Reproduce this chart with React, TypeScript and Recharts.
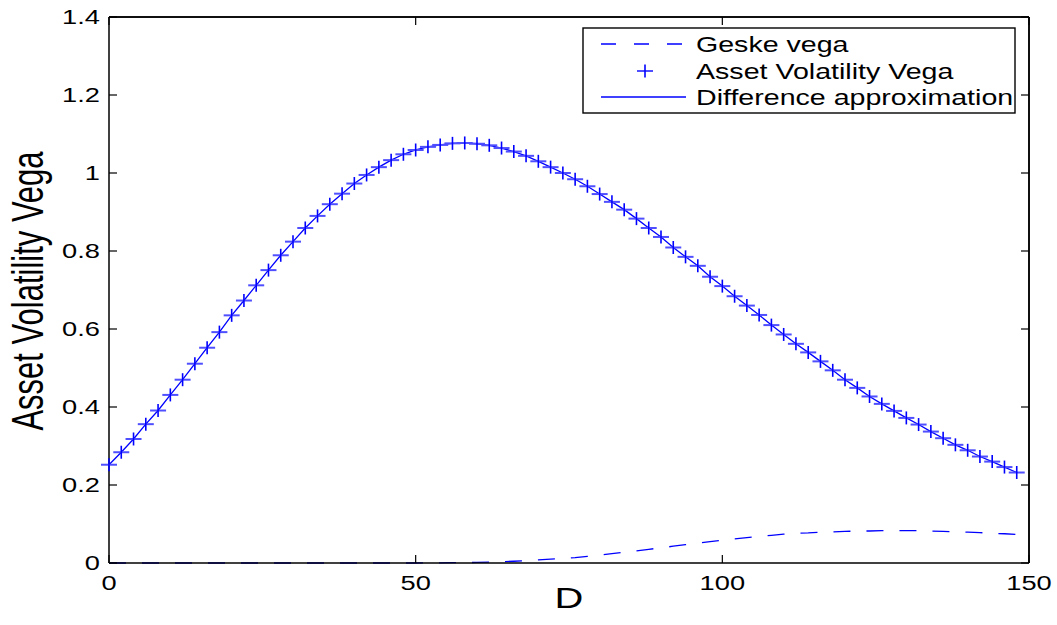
import { LineChart, Line, XAxis, YAxis, ReferenceLine } from "recharts";

// D grid (step 2) and the three curves.
const dValues = [
  0, 2, 4, 6, 8, 10, 12, 14, 16, 18,
  20, 22, 24, 26, 28, 30, 32, 34, 36, 38,
  40, 42, 44, 46, 48, 50, 52, 54, 56, 58,
  60, 62, 64, 66, 68, 70, 72, 74, 76, 78,
  80, 82, 84, 86, 88, 90, 92, 94, 96, 98,
  100, 102, 104, 106, 108, 110, 112, 114, 116, 118,
  120, 122, 124, 126, 128, 130, 132, 134, 136, 138,
  140, 142, 144, 146, 148,
];
const geskeVega = [
  0, 0, 0, 0, 0, 0, 0, 0, 0, 0,
  0, 0, 0, 0, 0, 0, 0, 0, 0, 0,
  0, 0, 0, 0, 0, 0, 0.0003, 0.0005, 0.0008, 0.001,
  0.0015, 0.002, 0.003, 0.0045, 0.006, 0.008, 0.01, 0.012, 0.014, 0.017,
  0.02, 0.024, 0.028, 0.031, 0.035, 0.039, 0.043, 0.047, 0.051, 0.055,
  0.058, 0.062, 0.065, 0.068, 0.071, 0.074, 0.076, 0.077, 0.079, 0.08,
  0.081, 0.082, 0.082, 0.083, 0.083, 0.083, 0.083, 0.082, 0.081, 0.08,
  0.079, 0.078, 0.076, 0.075, 0.073,
];
const assetVega = [
  0.252, 0.284, 0.318, 0.356, 0.391, 0.431, 0.47, 0.511, 0.552, 0.592,
  0.635, 0.673, 0.712, 0.751, 0.789, 0.824, 0.859, 0.89, 0.92, 0.947,
  0.973, 0.995, 1.015, 1.033, 1.048, 1.059, 1.067, 1.072, 1.076, 1.077,
  1.075, 1.071, 1.064, 1.055, 1.044, 1.03, 1.015, 1.0, 0.984, 0.966,
  0.946, 0.926, 0.906, 0.883, 0.859, 0.836, 0.809, 0.785, 0.762, 0.734,
  0.71, 0.684, 0.66, 0.636, 0.61, 0.586, 0.562, 0.54, 0.517, 0.494,
  0.47, 0.449, 0.427, 0.408, 0.39, 0.372, 0.355, 0.337, 0.32, 0.303,
  0.289, 0.273, 0.26, 0.246, 0.232,
];
const diffApprox = [
  0.252, 0.284, 0.318, 0.356, 0.391, 0.431, 0.47, 0.511, 0.552, 0.592,
  0.635, 0.673, 0.712, 0.751, 0.789, 0.824, 0.859, 0.89, 0.92, 0.947,
  0.973, 0.995, 1.015, 1.033, 1.048, 1.059, 1.067, 1.072, 1.076, 1.077,
  1.075, 1.071, 1.064, 1.055, 1.044, 1.03, 1.015, 1.0, 0.984, 0.966,
  0.946, 0.926, 0.906, 0.883, 0.859, 0.836, 0.809, 0.785, 0.762, 0.734,
  0.71, 0.684, 0.66, 0.636, 0.61, 0.586, 0.562, 0.54, 0.517, 0.494,
  0.47, 0.449, 0.427, 0.408, 0.39, 0.372, 0.355, 0.337, 0.32, 0.303,
  0.289, 0.273, 0.26, 0.246, 0.232,
];
const xTicks = [0, 50, 100, 150];
const yTicks = [0, 0.2, 0.4, 0.6, 0.8, 1, 1.2, 1.4];

const rows = dValues.map((d, i) => ({ D: d, geske: geskeVega[i], asset: assetVega[i], diff: diffApprox[i] }));

const FONT = "'Liberation Sans', Arial, Helvetica, sans-serif";
const SX = 1.33; // the figure is stretched horizontally
const BLUE = "#0000ff";
const TICK = 8;

const LeftTick = ({ x, y, payload }: any) => (
  <g>
    <line x1={x} x2={x + TICK} y1={y} y2={y} stroke="#000" strokeWidth={1.2} />
    <text transform={`translate(${x - 9},${y}) scale(${SX},1)`} textAnchor="end" dominantBaseline="central"
      fontFamily={FONT} fontSize={20.5} fill="#000">{payload.value}</text>
  </g>
);
const RightTick = ({ x, y }: any) => (
  <line x1={x} x2={x - TICK} y1={y} y2={y} stroke="#000" strokeWidth={1.2} />
);
const BottomTick = ({ x, y, payload }: any) => (
  <g>
    <line x1={x} x2={x} y1={y} y2={y - TICK} stroke="#000" strokeWidth={1.2} />
    <text transform={`translate(${x},${y + 20}) scale(${SX},1)`} textAnchor="middle" dominantBaseline="central"
      fontFamily={FONT} fontSize={20.5} fill="#000">{payload.value}</text>
  </g>
);
const TopTick = ({ x, y }: any) => (
  <line x1={x} x2={x} y1={y} y2={y + TICK} stroke="#000" strokeWidth={1.2} />
);

const Plus = ({ cx, cy, index }: any) => {
  if (cx == null || cy == null) return <g key={index} />;
  return (
    <g key={index}>
      <line x1={cx - 8} x2={cx + 8} y1={cy} y2={cy} stroke="#4f4fff" strokeWidth={2} />
      <line x1={cx} x2={cx} y1={cy - 6.5} y2={cy + 6.5} stroke={BLUE} strokeWidth={1.6} />
    </g>
  );
};

function LegendBox() {
  const rowsY = [17, 44, 70];
  const labels = ["Geske vega", "Asset Volatility Vega", "Difference approximation"];
  return (
    <svg width={434} height={87} style={{ position: "absolute", left: 582, top: 27 }}>
      <rect x={1} y={1} width={432} height={85} fill="#fff" stroke="#000" strokeWidth={1.4} />
      <line x1={19} x2={104} y1={rowsY[0]} y2={rowsY[0]} stroke={BLUE} strokeWidth={1.3} strokeDasharray="15 18" />
      <line x1={55} x2={71} y1={rowsY[1]} y2={rowsY[1]} stroke="#4f4fff" strokeWidth={2} />
      <line x1={63} x2={63} y1={rowsY[1] - 6.5} y2={rowsY[1] + 6.5} stroke={BLUE} strokeWidth={1.6} />
      <line x1={19} x2={104} y1={rowsY[2]} y2={rowsY[2]} stroke={BLUE} strokeWidth={1.3} />
      {labels.map((t, i) => (
        <text key={t} transform={`translate(114,${rowsY[i]}) scale(${SX},1)`} dominantBaseline="central"
          fontFamily={FONT} fontSize={21.5} fill="#000">{t}</text>
      ))}
    </svg>
  );
}

export default function App() {
  return (
    <div style={{ position: "absolute", left: 0, top: 0, width: 1057, height: 625, background: "#fff" }}>
      <LineChart width={1057} height={625} data={rows} margin={{ top: 16, right: 27, bottom: 0, left: 0 }}>
        <XAxis dataKey="D" type="number" domain={[0, 150]} ticks={xTicks} height={62}
          axisLine={{ stroke: "#000", strokeWidth: 1.5 }} tickLine={false} tickSize={0} tickMargin={0}
          tick={<BottomTick />} interval={0} />
        <XAxis xAxisId="top" orientation="top" dataKey="D" type="number" domain={[0, 150]} ticks={xTicks} height={1}
          axisLine={{ stroke: "#000", strokeWidth: 1.5 }} tickLine={false} tickSize={0} tickMargin={0}
          tick={<TopTick />} interval={0} />
        <YAxis type="number" domain={[0, 1.4]} ticks={yTicks} width={109}
          axisLine={{ stroke: "#000", strokeWidth: 1.5 }} tickLine={false} tickSize={0} tickMargin={0}
          tick={<LeftTick />} interval={0}
          label={{
            content: () => (
              <text transform={`translate(43,291) scale(1.45,1) rotate(-90)`} textAnchor="middle"
                fontFamily={FONT} fontSize={31} fill="#000">Asset Volatility Vega</text>
            ),
          }} />
        <YAxis yAxisId="right" orientation="right" type="number" domain={[0, 1.4]} ticks={yTicks} width={1}
          axisLine={{ stroke: "#000", strokeWidth: 1.5 }} tickLine={false} tickSize={0} tickMargin={0}
          tick={<RightTick />} interval={0} />
        {/* frame edges along the top and right of the plot */}
        <ReferenceLine y={1.4} stroke="#000" strokeWidth={1.5} />
        <ReferenceLine x={150} stroke="#000" strokeWidth={1.5} />
        {/* invisible series so the top/right frame axes get drawn */}
        <Line xAxisId="top" yAxisId="right" dataKey="asset" stroke="transparent" dot={false}
          activeDot={false} isAnimationActive={false} legendType="none" />
        <Line dataKey="geske" stroke={BLUE} strokeWidth={1.3} strokeDasharray="17 16" dot={false}
          activeDot={false} isAnimationActive={false} />
        <Line dataKey="diff" stroke={BLUE} strokeWidth={1.3} dot={false} activeDot={false} isAnimationActive={false} />
        <Line dataKey="asset" stroke="transparent" dot={<Plus />} activeDot={false} isAnimationActive={false} />
      </LineChart>
      <div style={{ position: "absolute", left: 569, top: 598, transform: `translate(-50%,-50%) scale(${SX},1)`,
        fontFamily: FONT, fontSize: 30, lineHeight: 1 }}>D</div>
      <LegendBox />
    </div>
  );
}
